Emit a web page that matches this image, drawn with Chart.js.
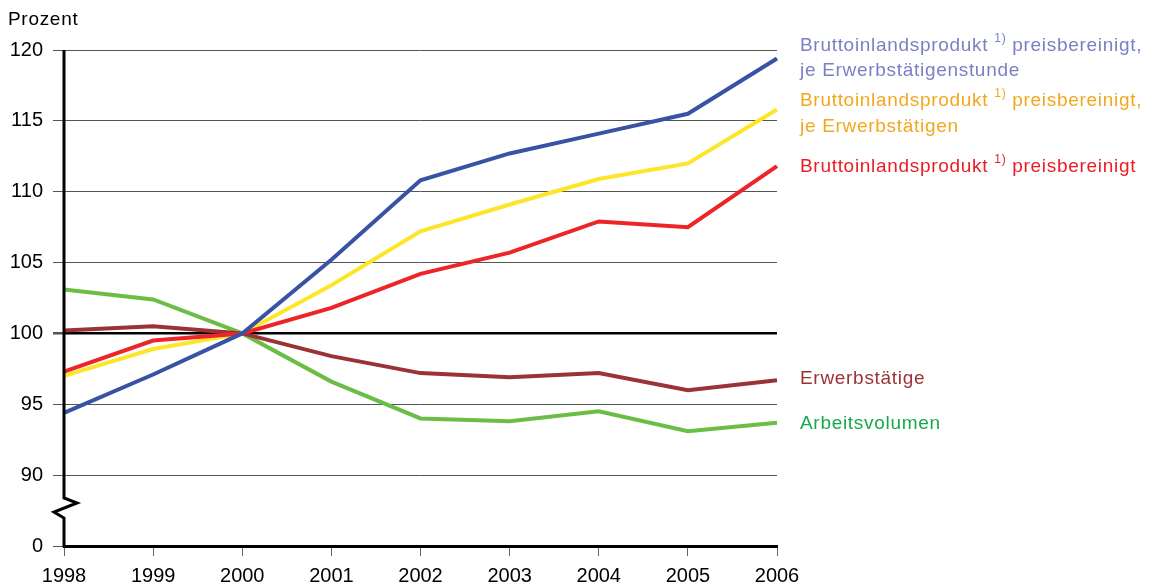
<!DOCTYPE html>
<html>
<head>
<meta charset="utf-8">
<script src="https://cdn.jsdelivr.net/npm/chart.js@4"></script>
<style>
body{margin:0;background:#fff;}
#wrap{width:1154px;height:584px;position:relative;}
</style>
</head>
<body>
<div id="wrap"><canvas id="chart"></canvas></div>
<script>
// ================= Data =================
const years=['1998','1999','2000','2001','2002','2003','2004','2005','2006'];
const bipStunde=[94.4,97.1,100,105.2,110.8,112.7,114.1,115.5,119.4];
const bipErwerb=[97.0,98.9,100,103.4,107.2,109.1,110.9,112.0,115.8];
const bipReal=[97.3,99.5,100,101.8,104.2,105.7,107.9,107.5,111.8];
const erwerbstaetige=[100.2,100.5,100,98.4,97.2,96.9,97.2,96.0,96.7];
const arbeitsvolumen=[103.1,102.4,100,96.6,94.0,93.8,94.5,93.1,93.7];
// 85 stands for the broken-off 0
const yTicks=[85,90,95,100,105,110,115,120];
const yTickLabels=['0','90','95','100','105','110','115','120'];

const FONT='"Liberation Sans", Arial, sans-serif';

// ================= Labels on the right =================
const sideLabels=[
    {y:46, color:'#7b7fc3', parts:['Bruttoinlandsprodukt ','1)',' preisbereinigt,']},
    {y:71, color:'#7b7fc3', parts:['je Erwerbstätigenstunde']},
    {y:101,color:'#f3a71f', parts:['Bruttoinlandsprodukt ','1)',' preisbereinigt,']},
    {y:127,color:'#f3a71f', parts:['je Erwerbstätigen']},
    {y:167,color:'#ec1c24', parts:['Bruttoinlandsprodukt ','1)',' preisbereinigt']},
    {y:379,color:'#9b3235', parts:['Erwerbstätige']},
    {y:424,color:'#17a94b', parts:['Arbeitsvolumen']}
];

const extras={
    id:'extras',
    afterDraw(chart){
        const ctx=chart.ctx, area=chart.chartArea;
        ctx.save();
        // y axis with break
        const x=area.left;
        ctx.strokeStyle='#000'; ctx.lineWidth=3; ctx.lineJoin='miter';
        ctx.beginPath();
        ctx.moveTo(x,area.top);
        ctx.lineTo(x,498);
        ctx.lineTo(x+13,503);
        ctx.lineTo(x-10,512);
        ctx.lineTo(x,518);
        ctx.lineTo(x,area.bottom+1);
        ctx.stroke();
        // unit
        ctx.fillStyle='#000';
        ctx.letterSpacing='0.7px';
        ctx.font='19px '+FONT;
        ctx.textBaseline='middle'; ctx.textAlign='left';
        ctx.fillText('Prozent',8,20);
        // side labels
        sideLabels.forEach(l=>{
            let cx=800;
            ctx.fillStyle=l.color;
            l.parts.forEach(p=>{
                if(p==='1)'){
                    ctx.font='12px '+FONT;
                    ctx.fillText(p,cx,l.y-7);
                    cx+=ctx.measureText(p).width;
                }else{
                    ctx.font='19px '+FONT;
                    ctx.fillText(p,cx,l.y);
                    cx+=ctx.measureText(p).width;
                }
            });
        });
        ctx.restore();
    }
};

const ds=(data,color)=>({data,borderColor:color,borderWidth:4,pointRadius:0,tension:0,fill:false});

new Chart(document.getElementById('chart'),{
    type:'line',
    data:{
        labels:years,
        datasets:[
            ds(bipStunde,'#3953a4'),
            ds(bipReal,'#ed2529'),
            ds(bipErwerb,'#fde629'),
            ds(erwerbstaetige,'#9b3235'),
            ds(arbeitsvolumen,'#6cbd45')
        ]
    },
    options:{
        responsive:true,maintainAspectRatio:false,animation:false,
        layout:{padding:{left:0,right:377,top:50,bottom:0}},
        plugins:{legend:{display:false},tooltip:{enabled:false}},
        scales:{
            x:{
                offset:false,
                afterFit:s=>{s.height=38;},
                border:{display:true,color:'#000',width:3},
                grid:{drawOnChartArea:false,drawTicks:true,tickLength:10,tickColor:'#666',tickWidth:1},
                ticks:{color:'#000',font:{family:FONT,size:20},padding:8,maxRotation:0}
            },
            y:{
                min:85,max:120,
                afterFit:s=>{s.width=64;},
                afterBuildTicks:s=>{s.ticks=yTicks.map(v=>({value:v}));},
                border:{display:false},
                grid:{
                    color:c=>c.tick&&c.tick.value===100?'#000':'#555',
                    lineWidth:c=>c.tick&&c.tick.value===100?2.5:1,
                    drawTicks:true,tickLength:11,tickColor:'#555'
                },
                ticks:{
                    color:'#000',font:{family:FONT,size:20},padding:10,
                    callback:v=>yTickLabels[yTicks.indexOf(v)]
                }
            }
        }
    },
    plugins:[extras]
});
</script>
</body>
</html>
